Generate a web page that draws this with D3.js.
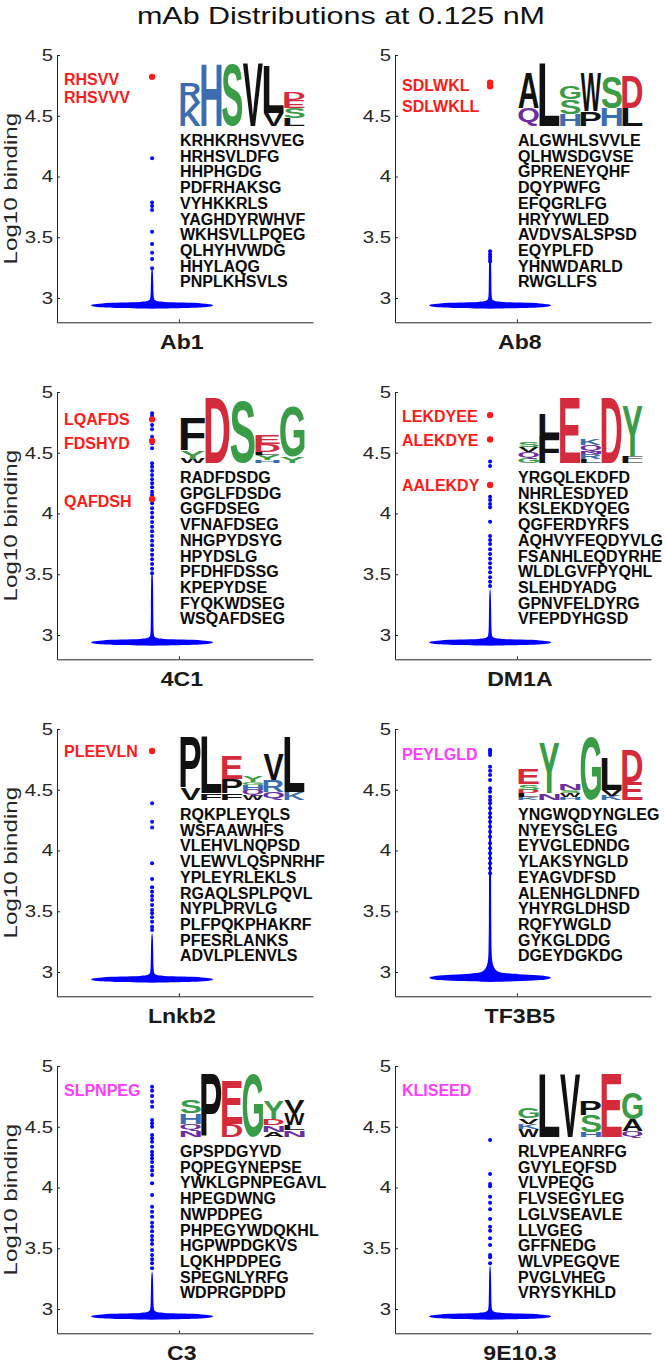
<!DOCTYPE html>
<html><head><meta charset="utf-8">
<script src="https://cdn.jsdelivr.net/npm/d3@7"></script>
<style>body{margin:0;background:#fff}svg{display:block}</style>
</head><body>
<svg id="chart" width="666" height="1364"></svg>
<script>
// ---------------- DATA ----------------
const chartTitle = "mAb Distributions at 0.125 nM";
const yLabel = "Log10 binding";
const yDomain = [2.8, 5];
const yTicks = [3, 3.5, 4, 4.5, 5];
const yTickLabels = ["3", "3.5", "4", "4.5", "5"];
const xDomain = [0.5, 1.55];
const categoryPos = 1;
const violinPos = 0.89;
const panelNames = ["Ab1", "Ab8", "4C1", "DM1A", "Lnkb2", "TF3B5", "C3", "9E10.3"];

// violin density profiles: [log10 binding, relative density]
const baseProfile = [[2.912,0],[2.918,0.6],[2.924,0.88],[2.932,0.98],[2.940,1.0],[2.948,0.96],[2.956,0.85],[2.962,0.5],[2.968,0.15],[2.974,0.07],[2.982,0.045],[2.995,0.03],[3.03,0.022]];
const neckAb1 = [[3.15,0.018],[3.23,0.012],[3.245,0]];
const neckAb8 = [[3.2,0.02],[3.35,0.014],[3.37,0]];
const neck4C1 = [[3.2,0.02],[3.45,0.016],[3.5,0.01],[3.51,0]];
const neckDM1A = [[3.2,0.018],[3.36,0.012],[3.38,0]];
const neckLnkb2 = [[3.2,0.018],[3.3,0.012],[3.32,0]];
const profileTF3B5 = [[2.918,0],[2.925,0.55],[2.933,0.85],[2.943,0.97],[2.953,1.0],[2.963,0.96],[2.973,0.8],[2.982,0.45],[2.992,0.2],[3.005,0.11],[3.03,0.07],[3.06,0.045],[3.1,0.032],[3.16,0.024],[3.4,0.019],[3.8,0.017],[4.2,0.015],[4.42,0.012],[4.44,0]];
const neckC3 = [[3.2,0.018],[3.29,0.012],[3.31,0]];
const neck9E10 = [[3.2,0.018],[3.34,0.012],[3.36,0]];

// individual outlier points (blue)
const dotsAb1 = [4.15, 3.785, 3.757, 3.724, 3.546, 3.444, 3.373, 3.321, 3.244];
const dotsAb8 = [3.385, 3.36, 3.34, 3.32, 3.30];
const dots4C1 = [4.825, 4.802, 4.728, 4.693, 4.632, 4.578, 4.537, 4.413, 4.385, 4.352, 4.317, 4.281, 4.249, 4.216, 4.18, 4.152, 4.084, 4.043, 4.007, 3.969, 3.930, 3.891, 3.853, 3.815, 3.776, 3.738, 3.700, 3.661, 3.623, 3.584, 3.546, 3.508];
const dotsDM1A = [4.427, 4.391, 4.138, 4.111, 4.078, 4.051, 3.933, 3.815, 3.782, 3.749, 3.705, 3.667, 3.628, 3.59, 3.554, 3.516, 3.475, 3.439, 3.403];
const dotsLnkb2 = [4.388, 4.237, 4.19, 3.895, 3.765, 3.697, 3.661, 3.626, 3.593, 3.551, 3.51, 3.483, 3.45, 3.414, 3.373, 3.345];
const dotsTF3B5 = [4.83, 4.821, 4.805, 4.786, 4.69, 4.657, 4.621, 4.58, 4.512, 4.484, 4.443, 4.416, 4.388, 4.347, 4.306, 4.273, 4.237, 4.196, 4.155, 4.114, 4.059, 4.018, 3.977, 3.936, 3.895, 3.853, 3.812];
const dotsC3 = [4.83, 4.797, 4.753, 4.706, 4.665, 4.556, 4.528, 4.5, 4.432, 4.405, 4.377, 4.336, 4.295, 4.268, 4.24, 4.21, 4.171, 4.14, 4.103, 4.034, 3.938, 3.842, 3.80, 3.76, 3.71, 3.677, 3.64, 3.60, 3.568, 3.535, 3.486, 3.445, 3.41, 3.376, 3.335];
const dots9E10 = [4.391, 4.111, 4.029, 4.01, 3.924, 3.875, 3.82, 3.741, 3.677, 3.645, 3.582, 3.527, 3.444, 3.425, 3.376];

// highlighted points (red)
const hitsAb1 = [4.82];
const hitsAb8 = [4.772, 4.742];
const hits4C1 = [4.775, 4.597, 4.12];
const hitsDM1A = [4.81, 4.61, 4.235];
const hitsLnkb2 = [4.819];
const hitsTF3B5 = [];
const hitsC3 = [];
const hits9E10 = [];

// annotated peptides and their vertical position
const labelsAb1 = ["RHSVV", "RHSVVV"];          const labelYAb1 = [4.80, 4.655];
const labelsAb8 = ["SDLWKL", "SDLWKLL"];        const labelYAb8 = [4.748, 4.575];
const labels4C1 = ["LQAFDS", "FDSHYD", "QAFDSH"]; const labelY4C1 = [4.772, 4.58, 4.105];
const labelsDM1A = ["LEKDYEE", "ALEKDYE", "AALEKDY"]; const labelYDM1A = [4.80, 4.605, 4.229];
const labelsLnkb2 = ["PLEEVLN"];                const labelYLnkb2 = [4.813];
const labelsTF3B5 = ["PEYLGLD"];                const labelYTF3B5 = [4.79];
const labelsC3 = ["SLPNPEG"];                   const labelYC3 = [4.797];
const labels9E10 = ["KLISEED"];                 const labelY9E10 = [4.797];
const labelKinds = ["hit", "hit", "hit", "hit", "hit", "motif", "motif", "motif"];

// top sequences
const seqAb1 = ["KRHKRHSVVEG","HRHSVLDFG","HHPHGDG","PDFRHAKSG","VYHKKRLS","YAGHDYRWHVF","WKHSVLLPQEG","QLHYHVWDG","HHYLAQG","PNPLKHSVLS"];
const seqAb8 = ["ALGWHLSVVLE","QLHWSDGVSE","GPRENEYQHF","DQYPWFG","EFQGRLFG","HRYYWLED","AVDVSALSPSD","EQYPLFD","YHNWDARLD","RWGLLFS"];
const seq4C1 = ["RADFDSDG","GPGLFDSDG","GGFDSEG","VFNAFDSEG","NHGPYDSYG","HPYDSLG","PFDHFDSSG","KPEPYDSE","FYQKWDSEG","WSQAFDSEG"];
const seqDM1A = ["YRGQLEKDFD","NHRLESDYED","KSLEKDYQEG","QGFERDYRFS","AQHVYFEQDYVLG","FSANHLEQDYRHE","WLDLGVFPYQHL","SLEHDYADG","GPNVFELDYRG","VFEPDYHGSD"];
const seqLnkb2 = ["RQKPLEYQLS","WSFAAWHFS","VLEHVLNQPSD","VLEWVLQSPNRHF","YPLEYRLEKLS","RGAQLSPLPQVL","NYPLPRVLG","PLFPQKPHAKRF","PFESRLANKS","ADVLPLENVLS"];
const seqTF3B5 = ["YNGWQDYNGLEG","NYEYSGLEG","EYVGLEDNDG","YLAKSYNGLD","EYAGVDFSD","ALENHGLDNFD","YHYRGLDHSD","RQFYWGLD","GYKGLDDG","DGEYDGKDG"];
const seqC3 = ["GPSPDGYVD","PQPEGYNEPSE","YWKLGPNPEGAVL","HPEGDWNG","NWPDPEG","PHPEGYWDQKHL","HGPWPDGKVS","LQKHPDPEG","SPEGNLYRFG","WDPRGPDPD"];
const seq9E10 = ["RLVPEANRFG","GVYLEQFSD","VLVPEQG","FLVSEGYLEG","LGLVSEAVLE","LLVGEG","GFFNEDG","WLVPEGQVE","PVGLVHEG","VRYSYKHLD"];

// sequence logos: columns, letters bottom -> top with height in bits
const logoAb1 = [[["K",1.55],["R",1.35]],[["H",4.2]],[["S",4.2]],[["V",4.2]],[["V",0.9],["L",3.2]],[["L",0.55],["S",0.7],["E",0.5],["D",0.55]]];
const logoAb8 = [[["Q",1.2],["A",2.4]],[["L",4.25]],[["H",0.8],["S",1.0],["G",0.9]],[["P",1.0],["W",2.55]],[["H",1.2],["S",2.15]],[["L",1.2],["D",2.15]]];
const logo4C1 = [[["W",0.3],["Y",0.55],["F",2.15]],[["D",4.4]],[["S",4.2]],[["H",0.2],["Y",0.35],["L",0.2],["D",0.55],["E",0.6]],[["Y",0.45],["G",3.4]]];
const logoDM1A = [[["G",0.35],["Q",0.4],["V",0.35],["S",0.35]],[["F",1.8],["L",1.5]],[["E",4.4]],[["L",0.25],["R",0.35],["N",0.2],["Q",0.4],["K",0.45]],[["D",4.4]],[["L",0.2],["F",0.25],["Y",3.4]]];
const logoLnkb2 = [[["V",0.8],["P",3.4]],[["F",0.45],["L",3.85]],[["F",0.45],["P",1.0],["E",1.55]],[["W",0.3],["Q",0.4],["H",0.3],["G",0.2],["Y",0.4]],[["Q",0.55],["R",0.8],["V",1.7]],[["K",0.55],["L",3.7]]];
const logoTF3B5 = [[["K",0.2],["L",0.25],["D",0.25],["S",0.35],["E",1.0]],[["N",0.45],["Y",3.4]],[["H",0.2],["W",0.25],["S",0.2],["N",0.45]],[["G",4.25]],[["K",0.3],["V",0.4],["L",2.2]],[["E",1.2],["D",2.15]]];
const logoC3 = [[["N",0.45],["Q",0.45],["H",0.7],["S",0.9]],[["P",4.2]],[["D",0.9],["E",2.9]],[["G",4.25]],[["A",0.35],["N",0.45],["D",0.45],["Y",1.2]],[["N",0.45],["L",0.35],["W",0.8],["V",0.9]]];
const logo9E10 = [[["W",0.55],["K",0.35],["V",0.35],["G",0.7]],[["L",4.25]],[["V",4.25]],[["H",0.35],["S",1.15],["P",1.0]],[["E",4.25]],[["Q",0.4],["A",0.8],["G",1.8]]];

const panels = [
  {name: panelNames[0], profile: baseProfile.concat(neckAb1), dots: dotsAb1, hits: hitsAb1, labels: labelsAb1, labelY: labelYAb1, kind: labelKinds[0], seqs: seqAb1, logo: logoAb1},
  {name: panelNames[1], profile: baseProfile.concat(neckAb8), dots: dotsAb8, hits: hitsAb8, labels: labelsAb8, labelY: labelYAb8, kind: labelKinds[1], seqs: seqAb8, logo: logoAb8},
  {name: panelNames[2], profile: baseProfile.concat(neck4C1), dots: dots4C1, hits: hits4C1, labels: labels4C1, labelY: labelY4C1, kind: labelKinds[2], seqs: seq4C1, logo: logo4C1},
  {name: panelNames[3], profile: baseProfile.concat(neckDM1A), dots: dotsDM1A, hits: hitsDM1A, labels: labelsDM1A, labelY: labelYDM1A, kind: labelKinds[3], seqs: seqDM1A, logo: logoDM1A},
  {name: panelNames[4], profile: baseProfile.concat(neckLnkb2), dots: dotsLnkb2, hits: hitsLnkb2, labels: labelsLnkb2, labelY: labelYLnkb2, kind: labelKinds[4], seqs: seqLnkb2, logo: logoLnkb2},
  {name: panelNames[5], profile: profileTF3B5, dots: dotsTF3B5, hits: hitsTF3B5, labels: labelsTF3B5, labelY: labelYTF3B5, kind: labelKinds[5], seqs: seqTF3B5, logo: logoTF3B5},
  {name: panelNames[6], profile: baseProfile.concat(neckC3), dots: dotsC3, hits: hitsC3, labels: labelsC3, labelY: labelYC3, kind: labelKinds[6], seqs: seqC3, logo: logoC3},
  {name: panelNames[7], profile: baseProfile.concat(neck9E10), dots: dots9E10, hits: hits9E10, labels: labels9E10, labelY: labelY9E10, kind: labelKinds[7], seqs: seq9E10, logo: logo9E10}
];

// ---------------- STYLE / LAYOUT ----------------
const FONT = '"Liberation Sans", Arial, Helvetica, sans-serif';
const axisColor = "#262626";
const violinColor = "#0000ff";
const hitColor = "#ff1a1a";
const motifColor = "#ff3cff";
const aaColor = {
  G:"#3a9c46", S:"#3a9c46", T:"#3a9c46", Y:"#3a9c46", C:"#3a9c46",
  K:"#3c6db0", R:"#3c6db0", H:"#3c6db0",
  D:"#d42a3c", E:"#d42a3c",
  N:"#6a2e9e", Q:"#6a2e9e",
  A:"#111", V:"#111", L:"#111", I:"#111", P:"#111", W:"#111", F:"#111", M:"#111"
};
const colX = [57, 395];
const rowTop = [55, 392, 729, 1066];
const axisW = 256;
const plotH = 267.3;
const violinHalf = 0.252;

const svg = d3.select("#chart");

function stretch(sel, k) {
  sel.each(function () {
    const L = this.getComputedTextLength();
    this.setAttribute("textLength", L * k);
    this.setAttribute("lengthAdjust", "spacingAndGlyphs");
  });
}

// title
svg.append("text").text(chartTitle)
  .attr("x", 341).attr("y", 24).attr("text-anchor", "middle")
  .attr("font-family", FONT).attr("font-size", 24).attr("fill", "#111")
  .attr("textLength", 408).attr("lengthAdjust", "spacingAndGlyphs");

// glyph metrics for logo letters
const LF = 100;
const ctx = document.createElement("canvas").getContext("2d");
ctx.font = `bold ${LF}px "Liberation Sans"`;
const glyphCache = {};
function glyph(ch) {
  if (!glyphCache[ch]) {
    const m = ctx.measureText(ch);
    glyphCache[ch] = {l: m.actualBoundingBoxLeft, r: m.actualBoundingBoxRight, a: m.actualBoundingBoxAscent, d: m.actualBoundingBoxDescent};
  }
  return glyphCache[ch];
}

panels.forEach((p, i) => {
  const cx = colX[i % 2];
  const top = rowTop[Math.floor(i / 2)];
  const bottom = top + plotH;
  const y = d3.scaleLinear().domain(yDomain).range([bottom, top]);
  const x = d3.scaleLinear().domain(xDomain).range([cx, cx + axisW]);
  const g = svg.append("g");

  // y axis
  const ya = g.append("g").attr("transform", `translate(${cx},0)`)
    .call(d3.axisLeft(y).tickValues(yTicks).tickFormat((d, j) => yTickLabels[j])
      .tickSizeInner(-3).tickSizeOuter(0).tickPadding(4));
  ya.select(".domain").attr("stroke", axisColor);
  ya.selectAll(".tick line").attr("stroke", axisColor);
  ya.selectAll(".tick text").attr("font-family", FONT).attr("font-size", 17).attr("fill", axisColor);
  stretch(ya.selectAll(".tick text"), 1.2);

  // x axis
  const xa = g.append("g").attr("transform", `translate(0,${bottom})`)
    .call(d3.axisBottom(x).tickValues([categoryPos]).tickFormat("")
      .tickSizeInner(-3).tickSizeOuter(0));
  xa.select(".domain").attr("stroke", axisColor);
  xa.selectAll(".tick line").attr("stroke", axisColor);
  const cl = g.append("text").text(p.name)
    .attr("x", x(categoryPos) + 3).attr("y", bottom + 27).attr("text-anchor", "middle")
    .attr("font-family", FONT).attr("font-weight", "bold").attr("font-size", 21).attr("fill", "#1a1a1a");
  stretch(cl, 1.1);

  if (i % 2 === 0) {
    const yl = g.append("text").text(yLabel)
      .attr("transform", `translate(17,${(top + bottom) / 2}) rotate(-90)`)
      .attr("text-anchor", "middle").attr("font-family", FONT).attr("font-size", 19).attr("fill", axisColor);
    stretch(yl, 1.27);
  }

  // violin
  const area = d3.area()
    .y(d => y(d[0]))
    .x0(d => x(violinPos - violinHalf * d[1]))
    .x1(d => x(violinPos + violinHalf * d[1]))
    .curve(d3.curveBasis);
  g.append("path").datum(p.profile).attr("d", area).attr("fill", violinColor).attr("stroke", "none");

  // outlier dots
  g.selectAll("circle.dot").data(p.dots).join("circle").attr("class", "dot")
    .attr("cx", x(violinPos)).attr("cy", d => y(d)).attr("r", 2).attr("fill", violinColor);
  // highlighted dots
  g.selectAll("circle.hit").data(p.hits).join("circle").attr("class", "hit")
    .attr("cx", x(violinPos)).attr("cy", d => y(d)).attr("r", 3.2).attr("fill", hitColor);

  // peptide labels
  g.selectAll("text.lab").data(p.labels).join("text").attr("class", "lab")
    .text(d => d)
    .attr("x", cx + 7).attr("y", (d, j) => y(p.labelY[j])).attr("dy", "0.36em")
    .attr("font-family", FONT).attr("font-weight", "bold").attr("font-size", 16)
    .attr("fill", p.kind === "hit" ? hitColor : motifColor);

  // sequence list
  g.selectAll("text.seq").data(p.seqs).join("text").attr("class", "seq")
    .text(d => d)
    .attr("x", cx + 123).attr("y", (d, j) => top + 91 + j * 15.7)
    .attr("font-family", FONT).attr("font-weight", "bold").attr("font-size", 16).attr("fill", "#0a0a0a");

  // sequence logo
  const lx = d3.scaleBand().domain(d3.range(p.logo.length)).range([cx + 123, cx + 248]).padding(0.02);
  const ly = d3.scaleLinear().domain([0, 4.4]).range([top + 71, top + 6]);
  const lg = g.append("g");
  p.logo.forEach((col, c) => {
    let acc = 0;
    col.forEach(([ch, h]) => {
      const yb = ly(acc), yt = ly(acc + h);
      acc += h;
      const b = glyph(ch);
      const w = lx.bandwidth();
      const sx = w / (b.l + b.r), sy = (yb - yt) / (b.a + b.d);
      lg.append("text").text(ch)
        .attr("font-family", '"Liberation Sans"').attr("font-weight", "bold").attr("font-size", LF)
        .attr("x", b.l).attr("y", -b.d)
        .attr("transform", `translate(${lx(c)},${yb}) scale(${sx},${sy})`)
        .attr("fill", aaColor[ch] || "#111");
    });
  });
});
</script>
</body></html>
